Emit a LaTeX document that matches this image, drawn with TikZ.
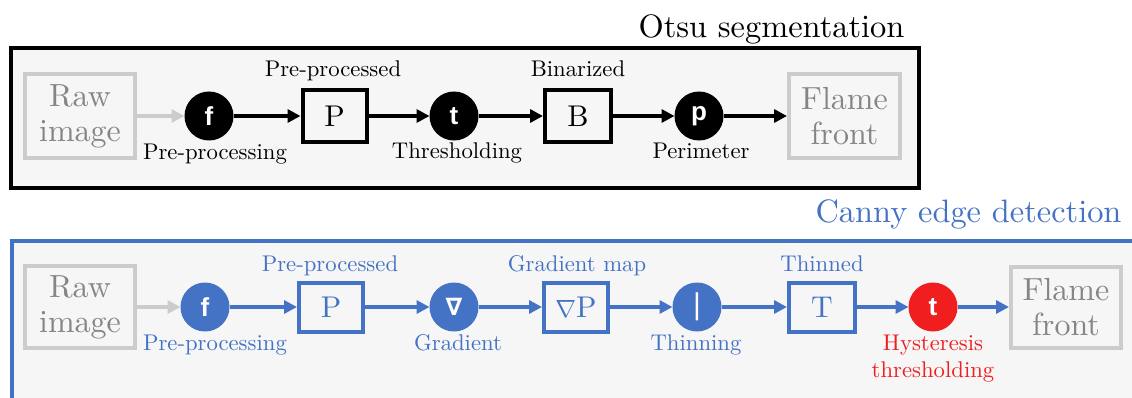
\documentclass[tikz,border=0pt]{standalone}
\usepackage{fontspec}
\setmainfont{lmroman10-regular.otf}[BoldFont=lmroman10-bold.otf]
\newfontfamily\circfont{Liberation Sans}
\newfontfamily\dejavu{DejaVu Sans}
\usetikzlibrary{arrows.meta}
\definecolor{cblue}{HTML}{4472C4}
\definecolor{cred}{HTML}{F01E1E}
\definecolor{bgray}{HTML}{F6F6F6}
\definecolor{lgray}{HTML}{CCCCCC}
\definecolor{tgray}{HTML}{858585}
\tikzset{
  frame/.style={line width=4pt, fill=bgray},
  rawbox/.style={draw=lgray, line width=4pt, text=tgray, align=center,
    font=\fontsize{32}{35}\selectfont, inner sep=0pt},
  databox/.style={draw, line width=4pt, inner sep=0pt, font=\fontsize{30}{36}\selectfont},
  opc/.style={circle, minimum size=49pt, inner sep=0pt, outer sep=0pt, text=white,
    font=\circfont\bfseries\fontsize{26}{28}\selectfont},
  lbl/.style={font=\fontsize{22.7}{27}\selectfont, inner sep=0pt, anchor=base, align=center},
  arr/.style={line width=3.5pt, -{Triangle[length=13pt,width=13pt]}},
  ttl/.style={font=\fontsize{32.4}{38}\selectfont, inner sep=0pt, anchor=base}
}
\begin{document}
\begin{tikzpicture}[x=1pt,y=1pt]
\useasboundingbox (0,0) rectangle (1132,397);
\clip (0,0) rectangle (1132,397);
% ---------- Otsu ----------
\draw[frame] (11,349) rectangle (919,209);
\node[ttl] (otsu) at (771.5,359) {Otsu segmentation};
\node[rawbox, minimum width=110pt, minimum height=83pt] (raw1) at (80,281) {Raw\\image};
\node[opc, fill=black] (f1) at (209,281) {f};
\node[databox, minimum width=64pt, minimum height=52pt] (P1) at (334.5,281) {P};
\node[opc, fill=black] (t1) at (454,281) {t};
\node[databox, minimum width=66pt, minimum height=52pt] (B1) at (578,281) {B};
\node[opc, fill=black] (p1) at (699,281) {p};
\node[rawbox, minimum width=111pt, minimum height=84pt] (fl1) at (844.5,281) {Flame\\front};
\node[lbl] (lf1) at (215,238) {Pre-processing};
\node[lbl] (lP1) at (333,320) {Pre-processed};
\node[lbl] (lt1) at (457,239) {Thresholding};
\node[lbl] (lB1) at (578,320) {Binarized};
\node[lbl] (lp1) at (701,239) {Perimeter};
\draw[arr, lgray] (raw1) -- (f1);
\draw[arr] (f1) -- (P1);
\draw[arr] (P1) -- (t1);
\draw[arr] (t1) -- (B1);
\draw[arr] (B1) -- (p1);
\draw[arr] (p1) -- (fl1);
% ---------- Canny ----------
\draw[frame, draw=cblue] (12,156) rectangle (1150,-20);
\node[ttl, text=cblue] (canny) at (968.5,175) {Canny edge detection};
\node[rawbox, minimum width=110pt, minimum height=82pt] (raw2) at (80,90) {Raw\\image};
\node[opc, fill=cblue] (f2) at (205,90) {f};
\node[databox, draw=cblue, text=cblue, minimum width=64pt, minimum height=49pt] (P2) at (331,90) {P};
\node[opc, fill=cblue, font=\dejavu\bfseries\fontsize{24}{26}\selectfont] (g2) at (454,90) {∇};
\node[databox, draw=cblue, text=cblue, minimum width=64pt, minimum height=49pt] (G2) at (576,90) {$\nabla$P};
\node[opc, fill=cblue, font=\circfont\fontsize{30}{32}\selectfont] (th2) at (697,90) {|};
\node[databox, draw=cblue, text=cblue, minimum width=66pt, minimum height=49pt] (T2) at (822,90) {T};
\node[opc, fill=cred] (h2) at (933,90) {t};
\node[rawbox, minimum width=110pt, minimum height=81pt] (fl2) at (1066,90) {Flame\\front};
\node[lbl, text=cblue] (lf2) at (215,47) {Pre-processing};
\node[lbl, text=cblue] (lP2) at (330,126) {Pre-processed};
\node[lbl, text=cblue] (lg2) at (458,47) {Gradient};
\node[lbl, text=cblue] (lG2) at (577,126) {Gradient map};
\node[lbl, text=cblue] (lth2) at (696,47) {Thinning};
\node[lbl, text=cblue] (lT2) at (822,126) {Thinned};
\node[lbl, text=cred, anchor=north] (lh2) at (933,62) {Hysteresis\\thresholding};
\draw[arr, lgray] (raw2) -- (f2);
\draw[arr, cblue] (f2) -- (P2);
\draw[arr, cblue] (P2) -- (g2);
\draw[arr, cblue] (g2) -- (G2);
\draw[arr, cblue] (G2) -- (th2);
\draw[arr, cblue] (th2) -- (T2);
\draw[arr, cblue] (T2) -- (h2);
\draw[arr, cblue] (h2) -- (fl2);
\end{tikzpicture}
\end{document}
